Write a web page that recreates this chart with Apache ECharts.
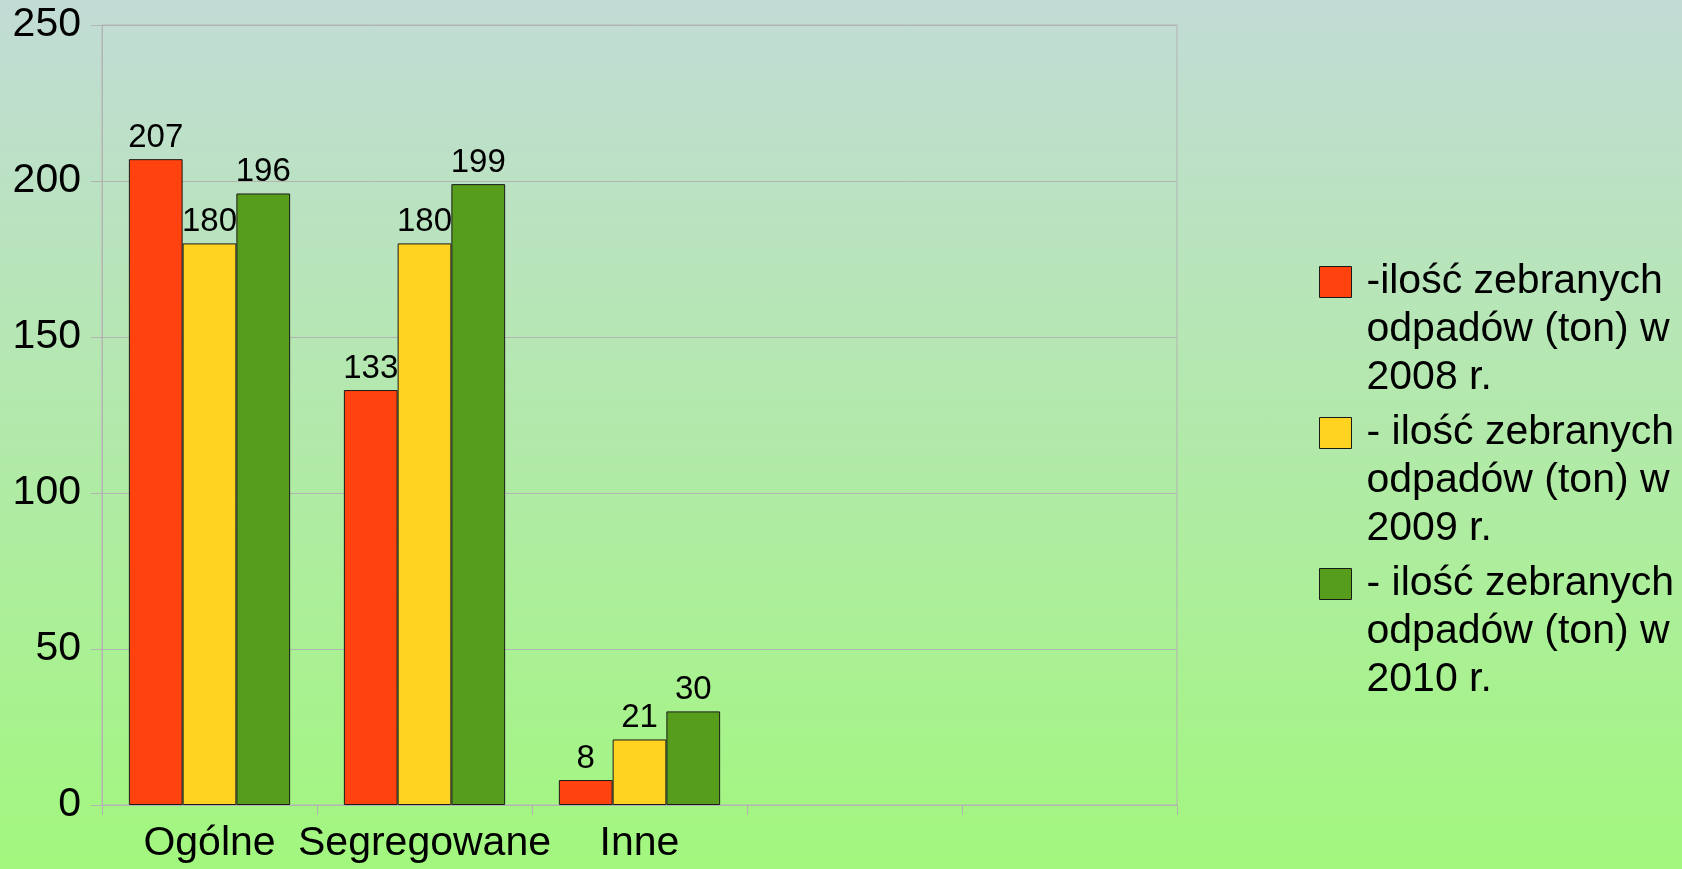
<!DOCTYPE html>
<html>
<head>
<meta charset="utf-8">
<script src="https://cdn.jsdelivr.net/npm/echarts@6/dist/echarts.min.js"></script>
<style>
  html, body { margin: 0; padding: 0; }
  #dom {
    width: 1682px;
    height: 869px;
    background: linear-gradient(to bottom, #c2dcd6 0%, #a2f77e 100%);
  }
</style>
</head>
<body>
<div id="dom"></div>
<script>
// categories (last two slots are empty in the original)
const categories = ['Ogólne', 'Segregowane', 'Inne', '', '']
const seriesNames = [
  '-ilość zebranych\nodpadów (ton) w\n2008 r.',
  '- ilość zebranych\nodpadów (ton) w\n2009 r.',
  '- ilość zebranych\nodpadów (ton) w\n2010 r.'
]
const values2008 = [207, 133, 8]
const values2009 = [180, 180, 21]
const values2010 = [196, 199, 30]
const colors = ['#ff420e', '#ffd320', '#579d1c']

const font = 'Liberation Sans, Arial, sans-serif'

function makeSeries (name, data, color) {
  return {
    name: name,
    type: 'bar',
    data: data,
    barGap: '0%',
    barCategoryGap: '25%',
    itemStyle: {
      color: color,
      borderColor: '#1a1a1a',
      borderWidth: 1
    },
    label: {
      show: true,
      position: 'top',
      distance: 5,
      color: '#000',
      fontFamily: font,
      fontSize: 33
    },
    emphasis: { disabled: true }
  }
}

let option = {
  backgroundColor: 'transparent',
  animation: false,
  color: colors,
  grid: {
    left: 102,
    right: 505,
    top: 25,
    bottom: 64,
    show: true,
    borderColor: '#b3b3b3',
    borderWidth: 1,
    containLabel: false
  },
  legend: {
    orient: 'vertical',
    left: 1319,
    top: 162,
    padding: 0,
    itemWidth: 32,
    itemHeight: 31,
    itemGap: -89,
    icon: 'rect',
    itemStyle: { borderColor: '#1a1a1a', borderWidth: 1 },
    // two blank lines on top keep the first text line level with the swatch
    formatter: name => '\n\n' + name,
    textStyle: {
      color: '#000',
      fontFamily: font,
      fontSize: 41,
      lineHeight: 48,
      padding: [0, 0, 0, 10]
    },
    data: seriesNames
  },
  xAxis: {
    type: 'category',
    data: categories,
    axisLine: { lineStyle: { color: '#b3b3b3' } },
    axisTick: { show: true, length: 10, lineStyle: { color: '#b3b3b3' } },
    axisLabel: {
      color: '#000',
      fontFamily: font,
      fontSize: 41,
      margin: 18,
      interval: 0
    }
  },
  yAxis: {
    type: 'value',
    min: 0,
    max: 250,
    interval: 50,
    axisLine: { show: true, lineStyle: { color: '#b3b3b3' } },
    axisTick: { show: true, length: 11, lineStyle: { color: '#b3b3b3' } },
    splitLine: { lineStyle: { color: '#b3b3b3' } },
    axisLabel: {
      color: '#000',
      fontFamily: font,
      fontSize: 41,
      margin: 21
    }
  },
  series: [
    makeSeries(seriesNames[0], values2008, colors[0]),
    makeSeries(seriesNames[1], values2009, colors[1]),
    makeSeries(seriesNames[2], values2010, colors[2])
  ]
}

let chart = echarts.init(document.getElementById('dom'))
chart.setOption(option, true)
</script>
</body>
</html>
